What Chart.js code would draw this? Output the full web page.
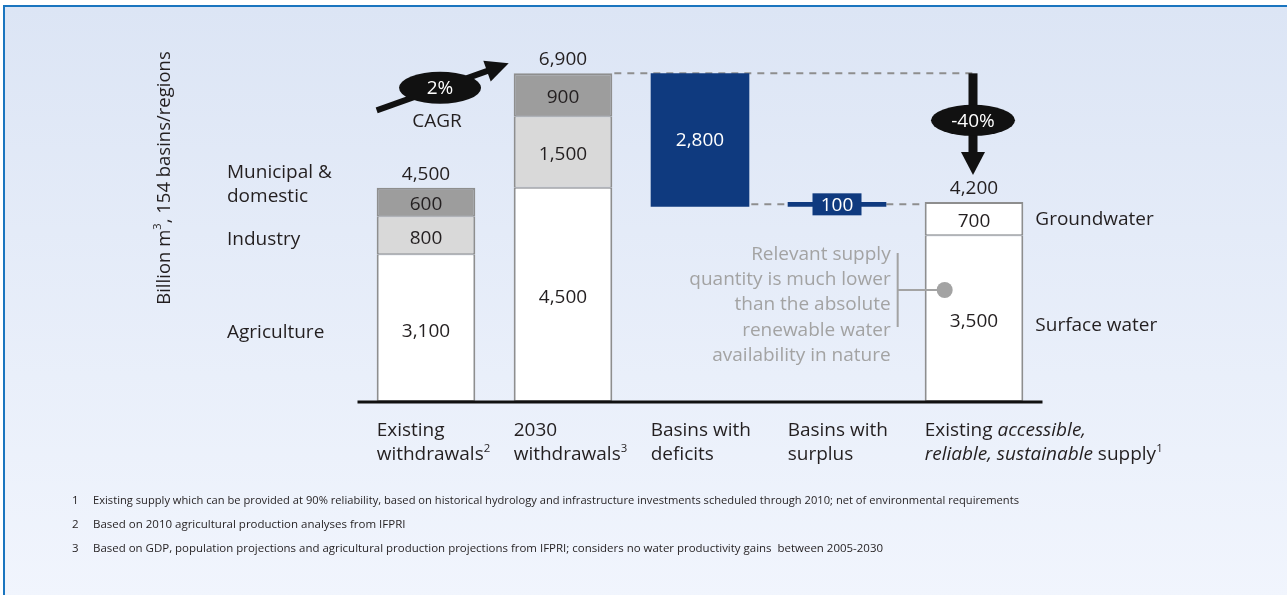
<!DOCTYPE html>
<html>
<head>
<meta charset="utf-8">
<script src="https://cdn.jsdelivr.net/npm/chart.js@4/dist/chart.umd.min.js"></script>
<style>
  html, body { margin: 0; padding: 0; background: #fff; }
  #frame {
    position: absolute; left: 3px; top: 5px; width: 1284px; height: 592px;
    border-left: 2px solid #1a75bf; border-top: 2px solid #1a75bf;
    background: linear-gradient(#dce5f5, #f1f5fd);
  }
  #wrap { position: absolute; left: 0; top: 0; width: 1287px; height: 595px; }
</style>
</head>
<body>
<div id="frame"></div>
<div id="wrap"><canvas id="chart" width="1287" height="595"></canvas></div>
<script>
// values, billion m3
const categories = ['Existing withdrawals', '2030 withdrawals', 'Basins with deficits', 'Basins with surplus', 'Existing accessible, reliable, sustainable supply'];
const lowerSegment = [3100, 4500, null, null, 3500];   // agriculture / surface water
const middleSegment = [800, 1500, null, null, 700];    // industry / groundwater
const upperSegment = [600, 900, null, null, null];     // municipal & domestic
const totals = [4500, 6900, null, null, 4200];
const deficit = 2800;
const surplus = 100;
const growthLabel = '2%';
const growthNote = 'CAGR';
const dropLabel = '-40%';

const withdrawalRows = [['Municipal &', 'domestic'], ['Industry'], ['Agriculture']];
const supplyRows = ['Groundwater', 'Surface water'];
const noteLines = ['Relevant supply', 'quantity is much lower', 'than the absolute', 'renewable water', 'availability in nature'];
const yTitle = [{t: 'Billion m'}, {t: '3', s: true}, {t: ', 154 basins/regions'}];
const xLabels = [
  [[{t: 'Existing'}], [{t: 'withdrawals'}, {t: '2', s: true}]],
  [[{t: '2030'}], [{t: 'withdrawals'}, {t: '3', s: true}]],
  [[{t: 'Basins with'}], [{t: 'deficits'}]],
  [[{t: 'Basins with'}], [{t: 'surplus'}]],
  [[{t: 'Existing '}, {t: 'accessible,', i: true}], [{t: 'reliable, sustainable', i: true}, {t: ' supply'}, {t: '1', s: true}]]
];
const footnotes = [
  ['1', 'Existing supply which can be provided at 90% reliability, based on historical hydrology and infrastructure investments scheduled through 2010; net of environmental requirements'],
  ['2', 'Based on 2010 agricultural production analyses from IFPRI'],
  ['3', 'Based on GDP, population projections and agricultural production projections from IFPRI; considers no water productivity gains  between 2005-2030']
];

// waterfall helpers
const afterDeficit = totals[1] - deficit;
const spacer = [null, null, afterDeficit, afterDeficit, null];
const deficitData = [null, null, deficit, null, null];
const surplusData = [null, null, null, surplus, null];

const FACE = '"Open Sans", sans-serif';
const TEXT = '#231f20';
const NAVY = '#0f3a7f';
const EDGE = '#8e8e8e';
const fmt = v => v.toLocaleString('en-US');

function font(size, italic) {
  return (italic ? 'italic ' : '') + size + 'px ' + FACE;
}

function drawRuns(ctx, runs, x, y, size, align) {
  let w = 0;
  runs.forEach(r => {
    ctx.font = font(r.s ? size * 0.6 : size, r.i);
    w += ctx.measureText(r.t).width;
  });
  let cx = align === 'center' ? x - w / 2 : align === 'right' ? x - w : x;
  ctx.textAlign = 'left';
  runs.forEach(r => {
    ctx.font = font(r.s ? size * 0.6 : size, r.i);
    ctx.fillText(r.t, cx, r.s ? y - size * 0.4 : y);
    cx += ctx.measureText(r.t).width;
  });
}

function segmentBorder(c) {
  const i = c.dataIndex;
  if (i === undefined) return 2;
  const segs = [lowerSegment, middleSegment, upperSegment];
  const k = c.datasetIndex - 1;
  let isTop = true;
  for (let j = k + 1; j < segs.length; j++) if (segs[j][i] != null) isTop = false;
  return {left: 2, right: 2, top: isTop ? 2 : 1, bottom: k === 0 ? 2 : 1};
}

const annotate = {
  id: 'annotate',
  beforeDatasetsDraw(chart) {
    const ctx = chart.ctx;
    const bar = (d, i) => chart.getDatasetMeta(d).data[i];
    const b2 = bar(3, 1), b3 = bar(4, 2), b4 = bar(5, 3), b5 = bar(1, 4);
    const y = chart.scales.y;
    const yTop = y.getPixelForValue(totals[1]);
    const ySur = (b4.y + b4.base) / 2;
    ctx.save();
    ctx.strokeStyle = EDGE;
    ctx.lineWidth = 2;
    ctx.setLineDash([7, 6]);
    ctx.beginPath();
    ctx.moveTo(b2.x + b2.width / 2 + 2, yTop);
    ctx.lineTo(b5.x, yTop);
    ctx.moveTo(b3.x + b3.width / 2 + 2, ySur);
    ctx.lineTo(b4.x - b4.width / 2, ySur);
    ctx.moveTo(b4.x + b4.width / 2, ySur);
    ctx.lineTo(b5.x - b5.width / 2, ySur);
    ctx.stroke();
    ctx.restore();
  },
  afterDatasetsDraw(chart) {
    const ctx = chart.ctx;
    const area = chart.chartArea;
    const y = chart.scales.y;
    const meta = d => chart.getDatasetMeta(d).data;
    const bar = (d, i) => meta(d)[i];
    const b1 = bar(1, 0), b2 = bar(1, 1), b5 = bar(1, 4);
    const left = el => el.x - el.width / 2;
    ctx.save();

    // baseline
    ctx.fillStyle = '#111';
    ctx.fillRect(area.left, area.bottom - 1.5, area.right - area.left, 3);

    // labels inside segments
    ctx.fillStyle = TEXT;
    ctx.font = font(19);
    ctx.textAlign = 'center';
    ctx.textBaseline = 'middle';
    [1, 2, 3].forEach(d => {
      meta(d).forEach((el, i) => {
        const v = chart.data.datasets[d].data[i];
        if (v == null) return;
        ctx.fillText(fmt(v), el.x, (el.y + el.base) / 2 + 3);
      });
    });

    // totals above stacks
    ctx.textBaseline = 'alphabetic';
    totals.forEach((t, i) => {
      if (t == null) return;
      ctx.fillText(fmt(t), meta(1)[i].x, y.getPixelForValue(t) - 8);
    });

    // deficit value
    const b3 = bar(4, 2);
    ctx.fillStyle = '#fff';
    ctx.textBaseline = 'middle';
    ctx.fillText(fmt(deficit), b3.x, (b3.y + b3.base) / 2 + 1);

    // surplus value box
    const b4 = bar(5, 3);
    const ySur = (b4.y + b4.base) / 2;
    ctx.fillStyle = NAVY;
    ctx.fillRect(b4.x - 24.5, ySur - 11, 49, 22);
    ctx.fillStyle = '#fff';
    ctx.fillText(fmt(surplus), b4.x, ySur + 1);

    // row labels, left of first bar
    ctx.fillStyle = TEXT;
    ctx.textAlign = 'left';
    const rowX = 227;
    const rowSegs = [3, 2, 1];
    withdrawalRows.forEach((lines, r) => {
      if (lines.length > 1) {
        ctx.textBaseline = 'alphabetic';
        const by = y.getPixelForValue(totals[0]) - 10;
        lines.forEach((ln, k) => ctx.fillText(ln, rowX, by + k * 24));
        return;
      }
      const el = bar(rowSegs[r], 0);
      ctx.textBaseline = 'middle';
      ctx.fillText(lines[0], rowX, (el.y + el.base) / 2 + 4);
    });

    // row labels, right of supply bar
    ctx.textBaseline = 'middle';
    [2, 1].forEach((d, r) => {
      const el = bar(d, 4);
      ctx.fillText(supplyRows[r], left(el) + el.width + 12, (el.y + el.base) / 2 + (r ? 7 : 1));
    });

    // category labels
    ctx.textBaseline = 'alphabetic';
    xLabels.forEach((lines, i) => {
      const el = meta(0)[i];
      lines.forEach((runs, k) => drawRuns(ctx, runs, left(el), area.bottom + 34 + k * 24, 19, 'left'));
    });

    // growth arrow
    const tipX = left(b2) - 5, tipY = y.getPixelForValue(totals[1]) - 10;
    const sx = left(b1), sy = tipY + 47;
    const dx = tipX - sx, dy = tipY - sy, len = Math.hypot(dx, dy);
    const ux = dx / len, uy = dy / len;
    ctx.strokeStyle = '#111';
    ctx.fillStyle = '#111';
    ctx.lineWidth = 6;
    ctx.beginPath();
    ctx.moveTo(sx, sy);
    ctx.lineTo(tipX - ux * 18, tipY - uy * 18);
    ctx.stroke();
    ctx.beginPath();
    ctx.moveTo(tipX, tipY);
    ctx.lineTo(tipX - ux * 23 - uy * 11, tipY - uy * 23 + ux * 11);
    ctx.lineTo(tipX - ux * 23 + uy * 11, tipY - uy * 23 - ux * 11);
    ctx.closePath();
    ctx.fill();
    const ex = sx + dx * 0.48, ey = sy + dy * 0.48;
    ctx.beginPath();
    ctx.ellipse(ex, ey, 41, 16, 0, 0, Math.PI * 2);
    ctx.fill();
    ctx.fillStyle = '#fff';
    ctx.textAlign = 'center';
    ctx.textBaseline = 'middle';
    ctx.font = font(19);
    ctx.fillText(growthLabel, ex, ey + 1);
    ctx.fillStyle = TEXT;
    ctx.textBaseline = 'alphabetic';
    ctx.fillText(growthNote, ex - 3, ey + 39);

    // drop arrow
    const ax = b5.x - 1;
    const aTop = y.getPixelForValue(totals[1]);
    const aTip = y.getPixelForValue(totals[4]) - 27;
    ctx.fillStyle = '#111';
    ctx.fillRect(ax - 4.5, aTop, 9, aTip - aTop - 20);
    ctx.beginPath();
    ctx.moveTo(ax - 12, aTip - 23);
    ctx.lineTo(ax + 12, aTip - 23);
    ctx.lineTo(ax, aTip);
    ctx.closePath();
    ctx.fill();
    ctx.beginPath();
    ctx.ellipse(ax, aTop + 47, 42, 15.5, 0, 0, Math.PI * 2);
    ctx.fill();
    ctx.fillStyle = '#fff';
    ctx.textBaseline = 'middle';
    ctx.fillText(dropLabel, ax, aTop + 48);

    // note with bracket
    const noteX = left(b5) - 34;
    ctx.fillStyle = '#a3a3a3';
    ctx.textAlign = 'right';
    ctx.textBaseline = 'alphabetic';
    noteLines.forEach((ln, k) => ctx.fillText(ln, noteX, 260 + k * 25.2));
    ctx.strokeStyle = '#a3a3a3';
    ctx.lineWidth = 2;
    ctx.beginPath();
    ctx.moveTo(noteX + 7, 253);
    ctx.lineTo(noteX + 7, 327);
    ctx.moveTo(noteX + 7, 290);
    ctx.lineTo(left(b5) + 20, 290);
    ctx.stroke();
    ctx.beginPath();
    ctx.arc(left(b5) + 20, 290, 8, 0, Math.PI * 2);
    ctx.fill();

    // axis title
    ctx.save();
    ctx.translate(165, 178);
    ctx.rotate(-Math.PI / 2);
    ctx.fillStyle = TEXT;
    ctx.textBaseline = 'middle';
    drawRuns(ctx, yTitle, 0, 0, 18.5, 'center');
    ctx.restore();

    // footnotes
    ctx.fillStyle = TEXT;
    ctx.textAlign = 'left';
    ctx.textBaseline = 'alphabetic';
    ctx.font = font(11.5);
    const noteWidths = [926, 400, 790];
    footnotes.forEach((f, k) => {
      const fy = 504 + k * 24;
      ctx.fillText(f[0], 72, fy);
      ctx.fillText(f[1], 93, fy, noteWidths[k]);
    });

    ctx.restore();
  }
};

new Chart(document.getElementById('chart'), {
  type: 'bar',
  data: {
    labels: categories,
    datasets: [
      {label: 'spacer', data: spacer, backgroundColor: 'rgba(0,0,0,0)', borderWidth: 0},
      {label: 'Agriculture / Surface water', data: lowerSegment, backgroundColor: '#ffffff', borderColor: EDGE, borderWidth: segmentBorder},
      {label: 'Industry / Groundwater', data: middleSegment, backgroundColor: ['#d9d9d9', '#d9d9d9', '#d9d9d9', '#d9d9d9', '#ffffff'], borderColor: EDGE, borderWidth: segmentBorder},
      {label: 'Municipal & domestic', data: upperSegment, backgroundColor: '#9d9d9d', borderColor: EDGE, borderWidth: segmentBorder},
      {label: 'Basins with deficits', data: deficitData, backgroundColor: NAVY, borderWidth: 0},
      {label: 'Basins with surplus', data: surplusData, backgroundColor: NAVY, borderWidth: 0}
    ]
  },
  options: {
    responsive: false,
    animation: false,
    layout: {padding: {left: 357.5, right: 244.5, top: 40, bottom: 193}},
    datasets: {bar: {barPercentage: 0.72, categoryPercentage: 1, borderSkipped: false}},
    scales: {
      x: {display: false, stacked: true},
      y: {display: false, stacked: true, min: 0, max: 7600}
    },
    plugins: {legend: {display: false}, tooltip: {enabled: false}}
  },
  plugins: [annotate]
});
</script>
</body>
</html>
